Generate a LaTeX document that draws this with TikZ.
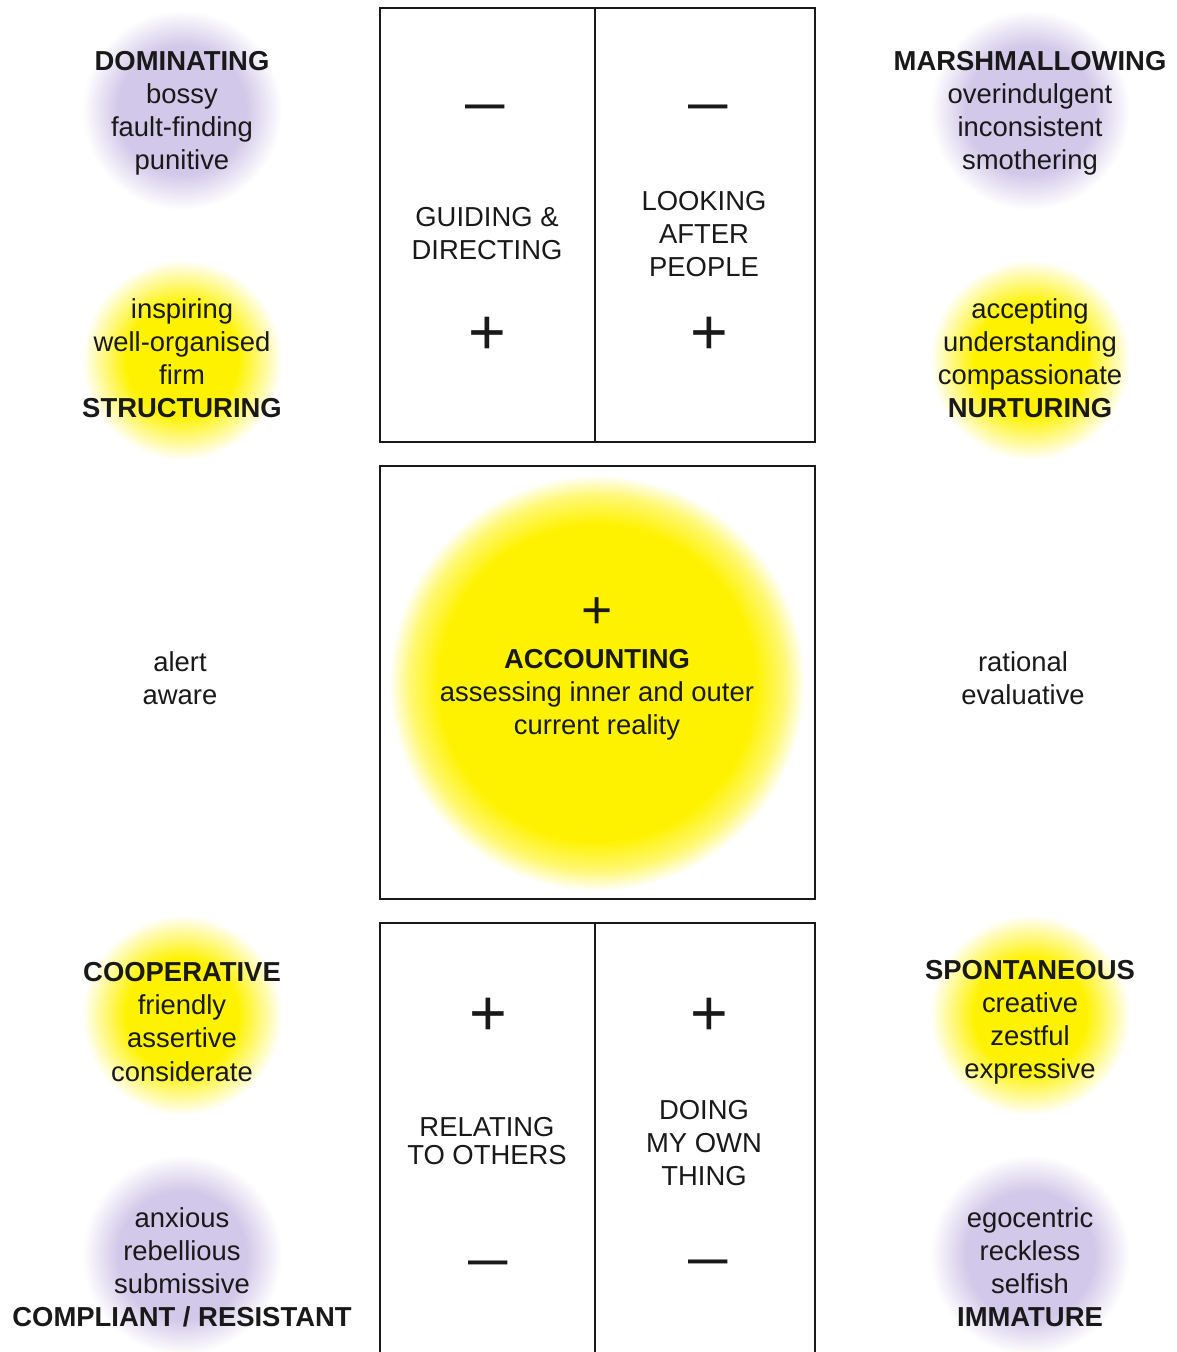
\documentclass[tikz,border=0pt]{standalone}
\usepackage{fontspec}
\setmainfont{Liberation Sans}
\definecolor{glowyellow}{RGB}{255,242,0}
\definecolor{glowlilac}{RGB}{210,200,233}
\definecolor{ink}{RGB}{25,25,25}
\pgfdeclareradialshading{sunglow}{\pgfpoint{0bp}{0bp}}{color(0bp)=(glowyellow); color(19bp)=(glowyellow); color(22.5bp)=(glowyellow!55!white); color(25bp)=(white); color(50bp)=(white)}
\pgfdeclareradialshading{yellowglow}{\pgfpoint{0bp}{0bp}}{color(0bp)=(glowyellow); color(14bp)=(glowyellow); color(25bp)=(white); color(50bp)=(white)}
\pgfdeclareradialshading{lilacglow}{\pgfpoint{0bp}{0bp}}{color(0bp)=(glowlilac); color(16bp)=(glowlilac); color(25bp)=(white); color(50bp)=(white)}

\begin{document}
\begin{tikzpicture}[x=0.025cm,y=-0.025cm,
  every node/.style={text=ink,inner sep=0pt},
  lbl/.style={align=center,font=\fontsize{19.5}{23.5}\selectfont},
  plussign/.style={font=\fontsize{46}{46}\selectfont},
  minussign/.style={font=\fontsize{28}{28}\selectfont\bfseries},
  frame/.style={draw=ink,line width=1pt}]
\useasboundingbox (0,0) rectangle (1176,1352);
% glows behind the words
\shade[shading=sunglow] (597,683) circle[radius=208];
\foreach \cx/\cy in {182/110,1030/110,182/1255,1030/1255}
  \shade[shading=lilacglow] (\cx,\cy) circle[radius=100];
\foreach \cx/\cy in {182/360,1030/360,182/1015,1030/1015}
  \shade[shading=yellowglow] (\cx,\cy) circle[radius=100];
% the three frames
\draw[frame] (380,8) rectangle (815,442) (595,8) -- (595,442);
\draw[frame] (380,466) rectangle (815,899);
\draw[frame] (380,1370) |- (815,923) -- (815,1370) (595,923) -- (595,1370);
% left and right columns
\node[lbl] (dom) at (182,113) {\textbf{DOMINATING}\\bossy\\fault-finding\\punitive};
\node[lbl] (struct) at (182,358) {inspiring\\well-organised\\firm\\\textbf{STRUCTURING}};
\node[lbl] (marsh) at (1030,113) {\textbf{MARSHMALLOWING}\\overindulgent\\inconsistent\\smothering};
\node[lbl] (nurt) at (1030,358) {accepting\\understanding\\compassionate\\\textbf{NURTURING}};
\node[lbl] (alert) at (180,678) {alert\\aware};
\node[lbl] (rational) at (1023,678) {rational\\evaluative};
\node[lbl] (coop) at (182,1022) {\textbf{COOPERATIVE}\\friendly\\assertive\\considerate};
\node[lbl] (compl) at (182,1267) {anxious\\rebellious\\submissive\\\textbf{COMPLIANT / RESISTANT}};
\node[lbl] (spont) at (1030,1022) {\textbf{SPONTANEOUS}\\creative\\zestful\\expressive};
\node[lbl] (immat) at (1030,1267) {egocentric\\reckless\\selfish\\\textbf{IMMATURE}};
% inside the frames
\node[lbl] (guide) at (487,234) {GUIDING \&\\DIRECTING};
\node[lbl] (look) at (704,234) {LOOKING\\AFTER\\PEOPLE};
\node[lbl] (acct) at (597,695) {\textbf{ACCOUNTING}\\assessing inner and outer\\current reality};
\node[lbl,font=\fontsize{19.5}{20.5}\selectfont] (relate) at (487,1141) {RELATING\\TO OTHERS};
\node[lbl] (doing) at (704,1143) {DOING\\MY OWN\\THING};
\foreach \sx/\sy/\nm in {485/111/gdminus,708/111/lkminus,488/1267/rlminus,708/1266/dominus}
  \node[minussign] (\nm) at (\sx,\sy) {—};
\foreach \sx/\sy/\nm in {487/336/gdplus,709/336/lkplus,488/1017/rlplus,709/1017/doplus}
  \node[plussign] (\nm) at (\sx,\sy) {+};
\node[plussign,font=\fontsize{38}{38}\selectfont] (acplus) at (597,613) {+};
\end{tikzpicture}
\end{document}
